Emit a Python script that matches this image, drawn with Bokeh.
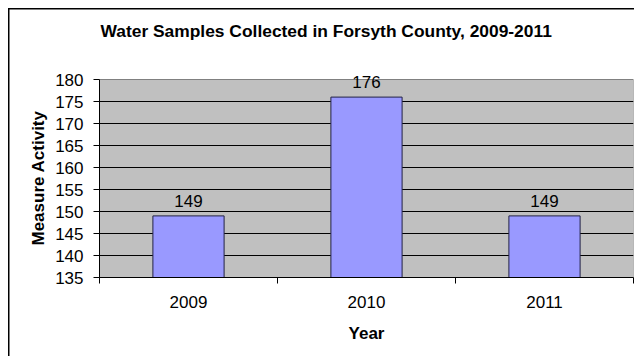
from bokeh.plotting import figure
from bokeh.models import (Range1d, FixedTicker, LabelSet, ColumnDataSource,
                          Label, BoxAnnotation, Title)
from bokeh.core.properties import value
from bokeh.embed import file_html
from bokeh.resources import INLINE

# ---- data ----
years = ["2009", "2010", "2011"]
samples = [149, 176, 149]
y_ticks = [135, 140, 145, 150, 155, 160, 165, 170, 175, 180]
title_text = "Water Samples Collected in Forsyth County, 2009-2011"
x_label = "Year"
y_label = "Measure Activity"

FONT = "Liberation Sans"
y_min, y_max = y_ticks[0], y_ticks[-1]
n = len(years)
slot = [i + 0.5 for i in range(n)]          # category centres on a 0..n scale

# layout (pixels): the plot frame runs from the canvas top down to the x axis,
# so the value-axis top (y_max) sits AXIS_TOP px below the canvas top
AXIS_TOP, AXIS_BOTTOM = 79, 277
y_top = y_max + (y_max - y_min) * AXIS_TOP / (AXIS_BOTTOM - AXIS_TOP)

src = ColumnDataSource(dict(x=slot, value=samples,
                            label=[str(v) for v in samples]))

p = figure(width=634, height=356, title=None,
           x_range=Range1d(0, n),
           y_range=Range1d(y_min, y_top),
           output_backend="svg", toolbar_location=None,
           min_border_left=99, min_border_right=1,
           min_border_top=0, min_border_bottom=356 - AXIS_BOTTOM,
           background_fill_color=None, border_fill_color=None,
           outline_line_color=None)

# outer chart border (only its left/top edges fall inside the picture)
p.styles = {"background": "linear-gradient(#000,#000) 8px 8px / 1.5px 100% no-repeat, "
                          "linear-gradient(#000,#000) 8px 8px / 100% 1.5px no-repeat, #fff"}

# gray plot area
p.add_layout(BoxAnnotation(bottom=y_min, top=y_max, fill_color="#C0C0C0",
                           fill_alpha=1, line_color="#808080", line_alpha=1,
                           line_width=1, level="image"))

# title
p.add_layout(Label(x=0, y=y_max, x_offset=1, y_offset=48.5,
                   text=title_text, text_baseline="alphabetic",
                   text_align="left", text_font=FONT,
                   text_font_size="17.4px", text_font_style="bold",
                   text_color="black"))

# grid
p.xgrid.grid_line_color = None
p.ygrid.grid_line_color = "black"
p.ygrid.grid_line_width = 1
p.ygrid.ticker = FixedTicker(ticks=y_ticks[1:-1])

# bars
p.vbar(x="x", top="value", bottom=y_min, width=0.4, source=src,
       fill_color="#9999FF", line_color="#222244", line_width=1)

# value labels
labels = LabelSet(x="x", y="value", text="label", source=src,
                  text_align="center", text_baseline="alphabetic",
                  y_offset=9, text_font=value(FONT),
                  text_font_size="17px", text_color="black")
p.add_layout(labels)

# y axis
ya = p.yaxis[0]
ya.bounds = (y_min, y_max)
ya.ticker = FixedTicker(ticks=y_ticks)
ya.major_tick_out = 6
ya.major_tick_in = 0
ya.minor_tick_line_color = None
ya.axis_line_color = "black"
ya.major_tick_line_color = "black"
ya.major_label_text_font = FONT
ya.major_label_text_font_size = "17px"
ya.major_label_text_color = "black"
ya.major_label_standoff = 10

# y axis title, centred on the value axis (not on the taller frame)
p.add_layout(Title(text=y_label, align="left", offset=32, standoff=10,
                   text_font=FONT, text_font_size="17px",
                   text_font_style="bold", text_color="black"), "left")

# x axis: labels at category centres, ticks at category boundaries
xa = p.xaxis[0]
xa.ticker = FixedTicker(ticks=slot, minor_ticks=list(range(n + 1)))
xa.major_label_overrides = {s: y for s, y in zip(slot, years)}
xa.major_tick_line_color = None
xa.major_tick_out = 6
xa.minor_tick_out = 6
xa.minor_tick_in = 0
xa.minor_tick_line_color = "black"
xa.axis_line_color = "black"
xa.major_label_text_font = FONT
xa.major_label_text_font_size = "17px"
xa.major_label_text_color = "black"
xa.major_label_standoff = 12
xa.axis_label = x_label
xa.axis_label_text_font = FONT
xa.axis_label_text_font_size = "17px"
xa.axis_label_text_font_style = "bold"
xa.axis_label_text_color = "black"
xa.axis_label_standoff = 13

open("out.html", "w").write(file_html(p, INLINE))
